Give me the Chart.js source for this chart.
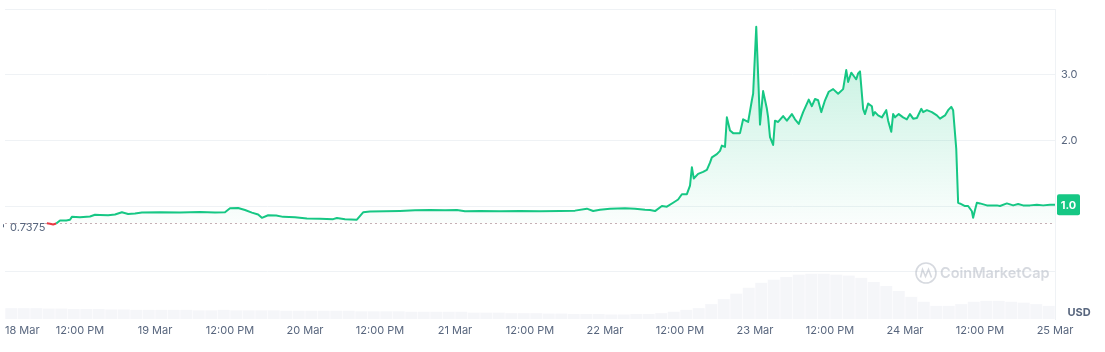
<!DOCTYPE html>
<html>
<head>
<meta charset="utf-8">
<script src="https://cdn.jsdelivr.net/npm/chart.js@4.4.1/dist/chart.umd.min.js"></script>
<style>
html,body{margin:0;padding:0;background:#fff;}
canvas{display:block;}
</style>
</head>
<body>
<canvas id="c" width="1105" height="352"></canvas>
<script>
// Hours since 18 Mar 00:00
const priceHours = [6.7,7.2,7.7,8.2,8.8,9.8,10.4,10.7,12.0,13.6,14.4,15.2,16.5,17.6,18.7,19.7,20.8,21.9,24.8,28.0,31.2,33.6,35.2,36.0,37.3,38.4,39.5,40.5,41.1,42.1,43.4,44.5,46.4,48.3,50.4,52.5,53.1,54.4,56.3,57.3,58.4,60.8,63.2,65.6,68.0,70.4,72.3,73.6,76.0,79.2,82.4,85.6,88.8,91.2,93.1,94.1,95.2,96.8,99.2,100.8,102.4,103.2,104.0,105.1,105.9,106.9,107.7,108.3,109.1,109.6,109.9,110.2,110.9,111.7,112.3,112.8,113.1,113.9,114.4,114.7,115.2,115.5,116.0,116.5,117.6,118.1,118.9,119.5,119.7,120.2,120.5,120.8,121.3,121.9,122.1,122.4,122.9,123.2,123.7,124.5,125.1,125.9,126.4,127.0,127.7,128.6,129.1,129.6,130.1,130.6,131.2,131.8,132.5,133.3,134.1,134.6,134.9,135.4,135.8,136.2,136.5,136.8,137.3,137.6,138.1,138.7,138.9,139.2,139.7,140.3,141.0,141.3,141.8,142.1,142.4,143.0,143.7,144.3,144.8,145.3,145.9,146.6,146.9,147.5,148.3,149.1,149.6,150.4,150.9,151.4,151.7,152.2,152.5,153.0,153.6,154.1,154.7,154.9,155.2,155.5,156.0,157.1,158.7,159.2,160.3,161.3,162.1,162.9,164.0,165.1,166.1,167.2,168.0];
const priceValues = [0.7375,0.73,0.72,0.735,0.781,0.78,0.79,0.835,0.83,0.84,0.868,0.865,0.86,0.87,0.905,0.88,0.885,0.9,0.905,0.9,0.91,0.9,0.905,0.965,0.97,0.94,0.9,0.87,0.82,0.86,0.855,0.835,0.83,0.81,0.805,0.8,0.818,0.8,0.792,0.905,0.915,0.92,0.925,0.935,0.94,0.935,0.94,0.92,0.925,0.92,0.925,0.92,0.925,0.93,0.96,0.925,0.945,0.96,0.965,0.96,0.945,0.94,0.923,1.00,0.99,1.05,1.10,1.18,1.18,1.31,1.59,1.42,1.49,1.52,1.55,1.66,1.74,1.79,1.84,1.92,1.90,2.35,2.15,2.11,2.11,2.32,2.28,2.61,2.71,3.73,2.99,2.24,2.75,2.48,2.35,2.05,1.93,2.30,2.28,2.37,2.30,2.40,2.32,2.25,2.43,2.62,2.52,2.63,2.61,2.43,2.61,2.74,2.78,2.71,2.78,3.07,2.89,3.03,2.98,2.93,3.02,3.05,2.48,2.40,2.56,2.52,2.38,2.43,2.38,2.35,2.46,2.30,2.13,2.40,2.35,2.40,2.35,2.32,2.40,2.33,2.34,2.48,2.43,2.46,2.43,2.38,2.33,2.38,2.46,2.51,2.46,1.87,1.05,1.03,1.00,1.00,0.92,0.82,0.94,1.05,1.04,1.01,1.01,1.00,1.04,1.01,1.03,1.01,1.01,1.02,1.01,1.02,1.02];
// Volume (millions USD), one bar per 2 hours starting 18 Mar 00:00
const volumeValues = [2.4,2.4,2.4,2.3,2.3,2.2,2.2,2.2,2.1,2.1,2.0,2.0,2.0,2.0,2.0,1.9,1.9,2.0,1.9,1.9,1.9,1.9,1.8,1.8,1.8,1.8,1.8,1.8,1.7,1.7,1.7,1.7,1.6,1.6,1.6,1.6,1.6,1.4,1.4,1.4,1.3,1.3,1.3,1.2,1.2,1.1,1.1,1.1,1.0,1.0,1.1,1.1,1.3,1.6,2.0,2.4,3.3,4.4,5.6,6.9,8.0,8.7,9.3,9.8,10.0,10.0,9.8,9.6,9.1,8.2,7.3,6.2,4.9,3.8,2.9,2.9,3.3,3.8,4.0,4.0,3.8,3.6,3.3,2.9];
const tickHours = [0,12,24,36,48,60,72,84,96,108,120,132,144,156,168];
const tickLabels = ['18 Mar','12:00 PM','19 Mar','12:00 PM','20 Mar','12:00 PM','21 Mar','12:00 PM','22 Mar','12:00 PM','23 Mar','12:00 PM','24 Mar','12:00 PM','25 Mar'];
const yTickValues = [0,1,2,3,4];
const yTickLabels = ['','','2.0','3.0',''];
const baseline = 0.7375;
const baselineLabel = '0.7375';
const lastLabel = '1.0';
const currency = 'USD';
const watermark = 'CoinMarketCap';

const GREEN = '#16c784', RED = '#ea3943', GREY = '#58667e', GRID = '#eff2f5';

const pricePoints = priceHours.map((h,i)=>({x:h,y:priceValues[i]}));
const volPoints = volumeValues.map((v,i)=>({x:i*2+1,y:v}));

const overlay = {
  id:'overlay',
  beforeDatasetsDraw(chart){
    const {ctx, chartArea:a, scales:{y}} = chart;
    const by = Math.round(y.getPixelForValue(baseline))+0.5;
    ctx.save();
    ctx.strokeStyle = '#c4b3b8';
    ctx.lineWidth = 1;
    ctx.setLineDash([2,3]);
    ctx.beginPath(); ctx.moveTo(a.left,by); ctx.lineTo(a.right,by); ctx.stroke();
    ctx.restore();
  },
  afterDatasetsDraw(chart){
    const {ctx, chartArea:a, scales:{x,y}} = chart;
    ctx.save();
    // watermark
    ctx.globalAlpha = 0.45;
    ctx.strokeStyle = '#a3abb9';
    ctx.lineWidth = 1.6;
    ctx.beginPath(); ctx.arc(926,273,10,0,Math.PI*2); ctx.stroke();
    ctx.beginPath();
    ctx.moveTo(920.5,277.5); ctx.lineTo(922.5,269.5); ctx.lineTo(925.5,276.5); ctx.lineTo(928.5,269.5); ctx.lineTo(931.5,277.5);
    ctx.stroke();
    ctx.fillStyle = '#a3abb9';
    ctx.font = '600 14.5px Inter';
    ctx.textBaseline = 'middle';
    ctx.textAlign = 'left';
    ctx.fillText(watermark, 940, 274);
    ctx.restore();

    ctx.save();
    // baseline label
    const by = y.getPixelForValue(baseline);
    ctx.fillStyle = GREY;
    ctx.font = '11px Inter';
    ctx.textBaseline = 'middle';
    ctx.textAlign = 'left';
    ctx.fillText(baselineLabel, 10, by+4);
    ctx.fillRect(3, by+1, 1, 3);
    // x tick labels
    ctx.textAlign = 'center';
    ctx.textBaseline = 'middle';
    ctx.font = '11px Inter';
    tickHours.forEach((h,i)=>{
      let px = x.getPixelForValue(h);
      const w = ctx.measureText(tickLabels[i]).width;
      px = Math.max(px, 5 + w/2);
      ctx.fillText(tickLabels[i], px, a.bottom + 12);
    });
    // last price badge
    const ly = y.getPixelForValue(priceValues[priceValues.length-1]);
    ctx.fillStyle = GREEN;
    ctx.beginPath();
    ctx.roundRect(a.right+2, ly-10.5, 23, 21, 2);
    ctx.fill();
    ctx.fillStyle = '#fff';
    ctx.font = 'bold 11px Inter';
    ctx.textAlign = 'center';
    ctx.fillText(lastLabel, a.right+13.5, ly+0.5);
    // currency
    ctx.fillStyle = GREY;
    ctx.font = 'bold 11px Inter';
    ctx.fillText(currency, 1079, 313);
    ctx.restore();
  }
};

new Chart(document.getElementById('c'), {
  type:'line',
  data:{
    datasets:[
      {
        type:'line',
        data:pricePoints,
        yAxisID:'y',
        order:0,
        borderColor:GREEN,
        borderWidth:2,
        pointRadius:0,
        tension:0,
        borderJoinStyle:'round',
        segment:{
          borderColor: c => (c.p0.parsed.y < baseline+0.005 && c.p1.parsed.y < baseline+0.005) ? RED : GREEN
        },
        fill:{
          value: baseline,
          above: (context)=>{
            const ch = context.chart; const a = ch.chartArea;
            if(!a) return 'rgba(22,199,132,0.15)';
            const y = ch.scales.y;
            const g = ch.ctx.createLinearGradient(0, y.getPixelForValue(3.8), 0, y.getPixelForValue(baseline));
            g.addColorStop(0,'rgba(22,199,132,0.28)');
            g.addColorStop(1,'rgba(22,199,132,0.02)');
            return g;
          },
          below:'rgba(234,57,67,0.08)'
        }
      },
      {
        type:'bar',
        data:volPoints,
        yAxisID:'yv',
        order:1,
        backgroundColor:'rgba(224,228,236,0.32)',
        borderWidth:0,
        barPercentage:0.96,
        categoryPercentage:1
      }
    ]
  },
  options:{
    responsive:false,
    animation:false,
    devicePixelRatio:1,
    layout:{padding:{left:5,top:9,right:0,bottom:0}},
    plugins:{legend:{display:false},tooltip:{enabled:false}},
    scales:{
      x:{
        type:'linear', min:0, max:168, offset:false,
        ticks:{display:false, stepSize:12},
        grid:{display:false, offset:false},
        border:{display:false},
        afterFit(s){ s.height = 33; s.paddingLeft = 0; s.paddingRight = 0; }
      },
      y:{
        position:'right', min:-0.72, max:4,
        afterBuildTicks(s){ s.ticks = yTickValues.map(v=>({value:v})); },
        ticks:{
          padding:6,
          color:GREY,
          font:{family:'Inter', size:11},
          callback:(v)=>{ const i = yTickValues.indexOf(v); return i>=0 ? yTickLabels[i] : ''; }
        },
        grid:{color:GRID, drawTicks:false},
        border:{display:true, color:GRID},
        afterFit(s){ s.width = 50; s.paddingTop = 0; s.paddingBottom = 0; }
      },
      yv:{
        display:false, min:0, max:68.6
      }
    }
  },
  plugins:[overlay]
});
</script>
</body>
</html>
